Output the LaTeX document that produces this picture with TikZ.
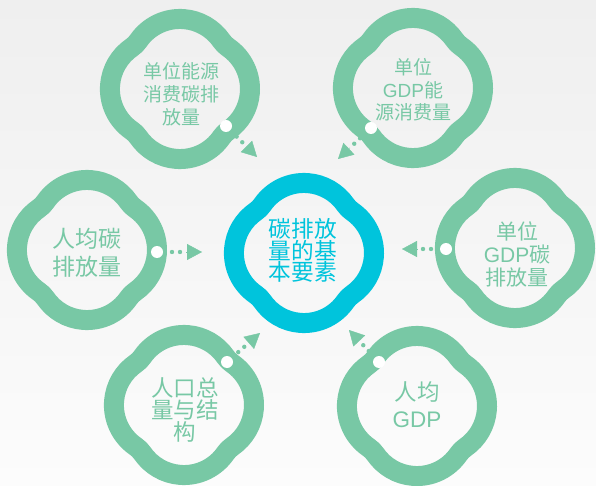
\documentclass[tikz,border=0pt]{standalone}
\usepackage{fontspec}
\setmainfont{Noto Sans CJK SC}
\newfontfamily\lat{Liberation Sans}
\usetikzlibrary{calc,arrows.meta}
\definecolor{qgreen}{RGB}{120,200,165}
\definecolor{qcyan}{RGB}{0,196,220}
\definecolor{bgtop}{RGB}{239,239,239}
\definecolor{bgbot}{RGB}{252,252,252}
\tikzset{
  pics/quat/.style={code={
    \draw[line width=20pt, draw=#1, line join=round]
      (48.07,-41.64) arc[start angle=-55.55, end angle=55.55, radius=50.5]
      arc[start angle=235.55, end angle=214.45, radius=25]
      arc[start angle=34.45, end angle=145.55, radius=50.5]
      arc[start angle=325.55, end angle=304.45, radius=25]
      arc[start angle=124.45, end angle=235.55, radius=50.5]
      arc[start angle=55.55, end angle=34.45, radius=25]
      arc[start angle=214.45, end angle=325.55, radius=50.5]
      arc[start angle=145.55, end angle=124.45, radius=25] -- cycle;
  }},
  lbl/.style={text=qgreen, align=center, inner sep=0pt},
  wdot/.style={fill=white},
  gdot/.style={fill=qgreen},
  tri/.style={draw=qgreen, line width=0.4pt, -{Triangle[length=15pt,width=16pt]}},
}
\newcommand\qconn[2]{%
  \fill[wdot] (#1) circle (6);
  \fill[gdot] ($(#1)!15pt!(#2)$) circle (2.2) ($(#1)!23pt!(#2)$) circle (2.2);
  \draw[tri] ($(#1)!29pt!(#2)$) -- (#2);
}
\begin{document}
\begin{tikzpicture}[x=1pt,y=-1pt]
\useasboundingbox (0,0) rectangle (596,486);
\shade[top color=bgtop, bottom color=bgbot] (0,0) rectangle (596,486);
% rings
\pic at (180,89) {quat=qgreen};
\pic at (413,88) {quat=qgreen};
\pic at (87,250) {quat=qgreen};
\pic at (515,248) {quat=qgreen};
\pic at (184,405) {quat=qgreen};
\pic at (417,406) {quat=qgreen};
\pic at (304,253) {quat=qcyan};
% labels
\node[lbl, font=\fontsize{19}{23}\selectfont] (TL) at (181,94) {单位能源\\消费碳排\\放量};
\node[lbl, font=\fontsize{19}{22.5}\selectfont] (TR) at (413,90) {单位\\{\lat GDP}能\\源消费量};
\node[lbl, font=\fontsize{23}{28}\selectfont] (L) at (87,253) {人均碳\\排放量};
\node[lbl, font=\fontsize{21}{23}\selectfont] (R) at (517,254) {单位\\{\lat GDP}碳\\排放量};
\node[lbl, font=\fontsize{22.5}{21.7}\selectfont] (BL) at (185,410) {人口总\\量与结\\构};
\node[lbl, font=\fontsize{22.5}{27}\selectfont] (BR) at (417,405) {人均\\{\lat GDP}};
\node[lbl, text=qcyan, font=\fontsize{22.7}{21}\selectfont] (C) at (303,250) {碳排放\\量的基\\本要素};
% connectors
\coordinate (wTL) at (226,126); \coordinate (tTL) at (257,157);
\coordinate (wTR) at (371,128); \coordinate (tTR) at (338,159);
\coordinate (wL) at (157,252);  \coordinate (tL) at (202,252);
\coordinate (wR) at (446,249);  \coordinate (tR) at (402,249);
\coordinate (wBL) at (227,362); \coordinate (tBL) at (260,333);
\coordinate (wBR) at (379,362); \coordinate (tBR) at (349,330);
\qconn{wTL}{tTL}
\qconn{wTR}{tTR}
\qconn{wL}{tL}
\qconn{wR}{tR}
\qconn{wBL}{tBL}
\qconn{wBR}{tBR}
\end{tikzpicture}
\end{document}
